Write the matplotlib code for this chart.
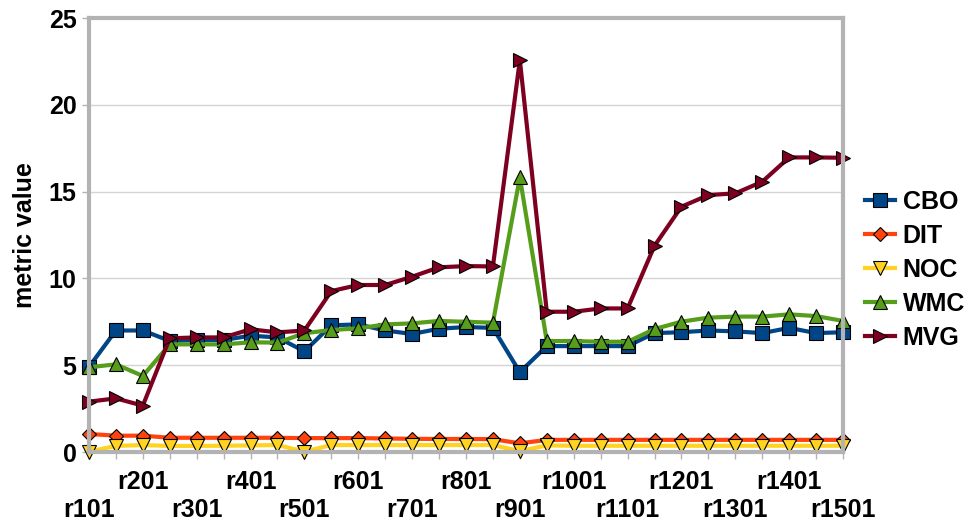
import matplotlib
matplotlib.use("Agg")
import matplotlib.pyplot as plt
from matplotlib.ticker import FixedLocator, FixedFormatter
import numpy as np

plt.rcParams["font.family"] = ["Liberation Sans", "DejaVu Sans"]
plt.rcParams["font.weight"] = "bold"

# revisions sampled every 50 commits, r101 .. r1501
revisions = [f"r{101 + 50 * i}" for i in range(29)]

cbo = [4.9, 7.0, 7.0, 6.4, 6.45, 6.45, 6.7, 6.6, 5.8, 7.3, 7.35, 7.0, 6.8, 7.1, 7.2,
       7.15, 4.6, 6.1, 6.1, 6.1, 6.1, 6.85, 6.9, 7.0, 6.95, 6.85, 7.15, 6.85, 6.9]
dit = [1.04, 0.94, 0.94, 0.82, 0.82, 0.82, 0.82, 0.82, 0.8, 0.8, 0.8, 0.78, 0.76, 0.75, 0.75,
       0.74, 0.5, 0.7, 0.7, 0.7, 0.7, 0.7, 0.7, 0.7, 0.7, 0.7, 0.7, 0.7, 0.7]
noc = [0.02, 0.35, 0.4, 0.35, 0.35, 0.36, 0.38, 0.4, 0.02, 0.4, 0.4, 0.4, 0.4, 0.4, 0.4,
       0.4, 0.05, 0.38, 0.36, 0.36, 0.36, 0.36, 0.36, 0.36, 0.36, 0.36, 0.36, 0.36, 0.36]
wmc = [4.88, 5.05, 4.38, 6.2, 6.2, 6.2, 6.32, 6.3, 6.84, 7.03, 7.12, 7.35, 7.41, 7.55, 7.5,
       7.45, 15.82, 6.39, 6.39, 6.35, 6.35, 7.08, 7.51, 7.74, 7.8, 7.8, 7.93, 7.83, 7.55]
mvg = [2.9, 3.09, 2.67, 6.55, 6.6, 6.6, 7.07, 6.89, 7.0, 9.27, 9.62, 9.62, 10.1, 10.64, 10.71,
       10.69, 22.58, 8.08, 8.08, 8.27, 8.27, 11.88, 14.13, 14.8, 14.9, 15.57, 16.97, 16.97, 16.95]

series = [
    ("CBO", cbo, "#004586", "s", 9.5),
    ("DIT", dit, "#ff420e", "D", 7.0),
    ("NOC", noc, "#ffd320", "v", 9.5),
    ("WMC", wmc, "#579d1c", "^", 9.5),
    ("MVG", mvg, "#7e0021", ">", 9.5),
]

FS = 18

fig = plt.figure(figsize=(9.69, 5.24), dpi=100)
ax = fig.add_axes([0.0918, 0.1374, 0.7782, 0.8282])

x = np.arange(len(revisions))
for name, vals, color, marker, ms in series:
    ax.plot(x, vals, color=color, lw=3.0, marker=marker, markersize=ms,
            markerfacecolor=color, markeredgecolor="black", markeredgewidth=0.8,
            label=name, clip_on=False)

ax.set_xlim(0, len(revisions) - 1)
ax.set_ylim(0, 25)
ax.set_yticks(np.arange(0, 26, 5))
ax.yaxis.grid(True, color="#d4d4d4", lw=1.0)
ax.set_axisbelow(True)

# staggered category labels: r201, r401, ... on the upper row (major ticks),
# r101, r301, ... on the lower row (minor ticks, which also mark every point)
upper = [i for i in x if i % 4 == 2]
others = [i for i in x if i % 4 != 2]
ax.xaxis.set_major_locator(FixedLocator(upper))
ax.xaxis.set_major_formatter(FixedFormatter([revisions[i] for i in upper]))
ax.xaxis.set_minor_locator(FixedLocator(others))
ax.xaxis.set_minor_formatter(
    FixedFormatter([revisions[i] if i % 4 == 0 else "" for i in others]))

ax.tick_params(axis="both", which="both", color="#b3b3b3", width=1.0, length=5,
               labelsize=FS)
ax.tick_params(axis="x", which="major", pad=8)
ax.tick_params(axis="x", which="minor", pad=28)
ax.tick_params(axis="y", pad=4)
for lab in (ax.get_xticklabels() + ax.get_xticklabels(minor=True)
            + ax.get_yticklabels()):
    lab.set_fontweight("bold")

for sp in ax.spines.values():
    sp.set_color("#b3b3b3")
    sp.set_linewidth(3.0)

ax.set_ylabel("metric value", fontsize=18, fontweight="bold", labelpad=8)

ax.legend(loc="center left", bbox_to_anchor=(0.893, 0.485),
          bbox_transform=fig.transFigure, frameon=False,
          prop={"size": FS, "weight": "bold"}, handlelength=1.2,
          handletextpad=0.3, labelspacing=0.4, borderpad=0, borderaxespad=0)

fig.savefig("out.png", dpi=100, facecolor="white")
